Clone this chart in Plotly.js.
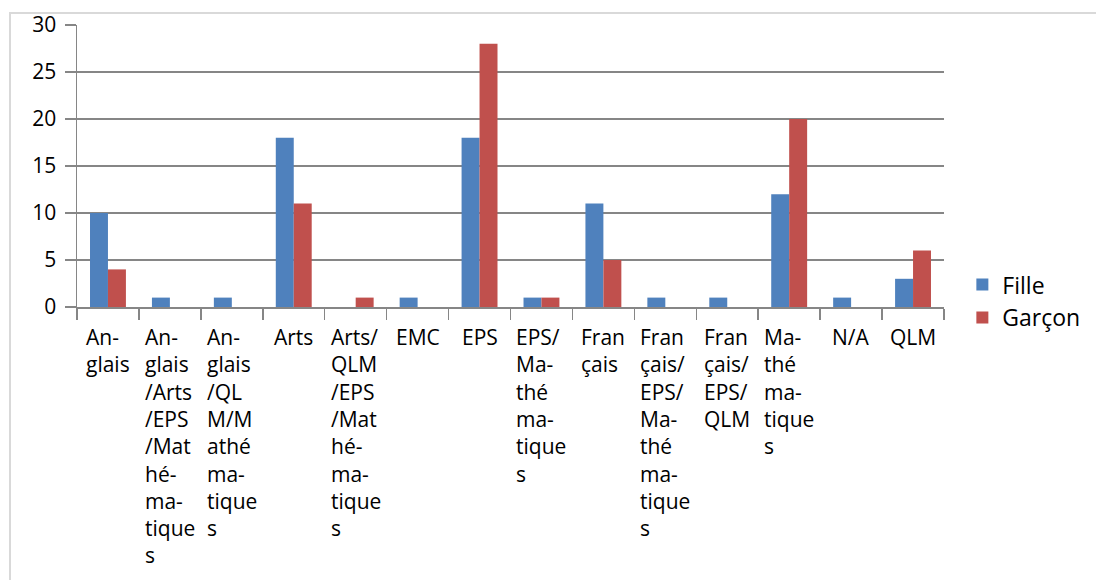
<!DOCTYPE html>
<html>
<head>
<meta charset="utf-8">
<script src="https://cdn.plot.ly/plotly-3.0.1.min.js"></script>
<style>
  html, body { margin: 0; padding: 0; background: #ffffff; }
  #chart { position: absolute; left: 0; top: 0; width: 1096px; height: 580px; }
  #frame { position: absolute; left: 9px; top: 12px; width: 1100px; height: 580px;
           border-left: 2px solid #d9d9d9; border-top: 2px solid #d9d9d9; pointer-events: none; }
</style>
</head>
<body>
<div id="frame"></div>
<div id="chart"></div>
<script>
// Categories (full names) and the wrapped labels shown under each column
const categories = [
  "Anglais",
  "Anglais/Arts/EPS/Mathématiques",
  "Anglais/QLM/Mathématiques",
  "Arts",
  "Arts/QLM/EPS/Mathématiques",
  "EMC",
  "EPS",
  "EPS/Mathématiques",
  "Français",
  "Français/EPS/Mathématiques",
  "Français/EPS/QLM",
  "Mathématiques",
  "N/A",
  "QLM"
];
const tickLabels = [
  "An-<br>glais",
  "An-<br>glais<br>/Arts<br>/EPS<br>/Mat<br>hé-<br>ma-<br>tique<br>s",
  "An-<br>glais<br>/QL<br>M/M<br>athé<br>ma-<br>tique<br>s",
  "Arts",
  "Arts/<br>QLM<br>/EPS<br>/Mat<br>hé-<br>ma-<br>tique<br>s",
  "EMC",
  "EPS",
  "EPS/<br>Ma-<br>thé<br>ma-<br>tique<br>s",
  "Fran<br>çais",
  "Fran<br>çais/<br>EPS/<br>Ma-<br>thé<br>ma-<br>tique<br>s",
  "Fran<br>çais/<br>EPS/<br>QLM",
  "Ma-<br>thé<br>ma-<br>tique<br>s",
  "N/A",
  "QLM"
];
const filleValues  = [10, 1, 1, 18, 0, 1, 18, 1, 11, 1, 1, 12, 1, 3];
const garconValues = [4, 0, 0, 11, 1, 0, 28, 1, 5, 0, 0, 20, 0, 6];
const seriesNames = ["Fille", "Garçon"];
const yTicks = [0, 5, 10, 15, 20, 25, 30];

const FONT = "Open Sans, Noto Sans, sans-serif";

const traces = [
  { type: "bar", name: seriesNames[0], x: categories, y: filleValues,
    marker: { color: "#4F81BD", line: { width: 0 } }, hoverinfo: "x+y+name" },
  { type: "bar", name: seriesNames[1], x: categories, y: garconValues,
    marker: { color: "#C0504D", line: { width: 0 } }, hoverinfo: "x+y+name" }
];

const annotations = categories.map((c, i) => ({
  x: c, xref: "x", y: 0, yref: "paper",
  text: tickLabels[i], showarrow: false,
  xanchor: "center", yanchor: "top", align: "left",
  yshift: -14,
  font: { family: FONT, size: 21, color: "#000000" }
}));

const layout = {
  width: 1096, height: 580,
  paper_bgcolor: "rgba(0,0,0,0)", plot_bgcolor: "rgba(0,0,0,0)",
  margin: { l: 77, r: 151, t: 25, b: 273, pad: 0 },
  barmode: "group", bargap: 0.42, bargroupgap: 0,
  font: { family: FONT, size: 21, color: "#000000" },
  showlegend: true,
  legend: {
    x: 1.02, xanchor: "left", y: 0.021, yanchor: "middle",
    bgcolor: "rgba(0,0,0,0)", borderwidth: 0,
    font: { family: FONT, size: 23, color: "#000000" },
    traceorder: "normal", tracegroupgap: 0
  },
  xaxis: {
    type: "category", showticklabels: false,
    ticks: "outside", tickson: "boundaries", ticklen: 11, tickwidth: 1.5, tickcolor: "#868686",
    showline: true, linecolor: "#868686", linewidth: 1.5,
    showgrid: false, zeroline: false, fixedrange: true
  },
  yaxis: {
    range: [0, 30], tickvals: yTicks, ticktext: yTicks.map(String),
    ticks: "outside", ticklen: 11, tickwidth: 1.5, tickcolor: "#868686",
    ticklabelstandoff: 4,
    showline: true, linecolor: "#868686", linewidth: 1.5,
    showgrid: true, gridcolor: "#868686", gridwidth: 1.5,
    zeroline: false, fixedrange: true,
    tickfont: { family: FONT, size: 21, color: "#000000" }
  },
  annotations: annotations
};

Plotly.newPlot("chart", traces, layout, { displayModeBar: false, staticPlot: true });
</script>
</body>
</html>
